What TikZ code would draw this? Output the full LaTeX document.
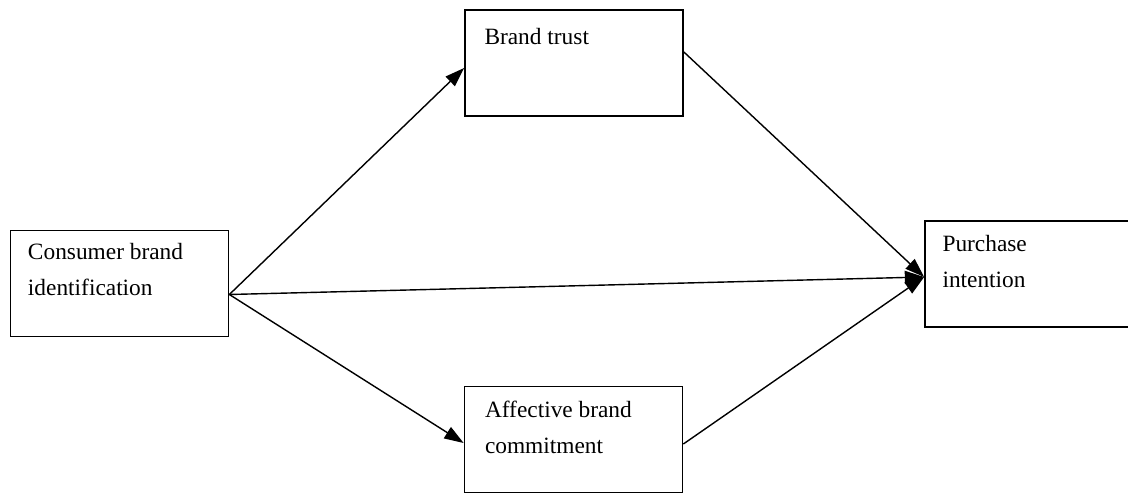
\documentclass[tikz,border=0pt]{standalone}
\usepackage{fontspec}
\setmainfont{Liberation Serif}
\usetikzlibrary{arrows.meta,positioning,calc}
\tikzset{
  boxnd/.style={draw, line width=1pt, minimum width=4.36cm, minimum height=2.12cm, inner sep=0pt},
  labnd/.style={anchor=north west, inner sep=0pt, align=left, font=\fontsize{13.3}{20.5}\selectfont},
  linkln/.style={-{Triangle[length=11pt,width=7.5pt]}, line width=0.8pt},
}

\begin{document}
\begin{tikzpicture}[x=0.02cm, y=-0.02cm]
    \path[use as bounding box, clip] (0,0) rectangle (1128,493);
    % boxes
    \node[boxnd] (cbi) at (119.5,283.5) {};
    \node[boxnd] (trust) at (574,63) {};
    \node[boxnd] (commit) at (573.5,439.5) {};
    \node[boxnd] (intent) at (1034,274) {};
    % texts
    \node[labnd] (cbilab) at ($(cbi.north west)+(18,13)$) {Consumer brand\\identification};
    \node[labnd] (trustlab) at ($(trust.north west)+(20,19)$) {Brand trust};
    \node[labnd] (commitlab) at ($(commit.north west)+(21,15)$) {Affective brand\\commitment};
    \node[labnd] (intentlab) at ($(intent.north west)+(18,15)$) {Purchase\\intention};
    % link ends
    \coordinate (src) at ($(cbi.east)+(0,11)$);
    \coordinate (sink) at ($(intent.west)+(0,3)$);
    \coordinate (trustin) at ($(trust.west)+(0,5)$);
    \coordinate (trustout) at ($(trust.east)+(0,-11)$);
    \coordinate (commitin) at ($(commit.west)+(0,3.5)$);
    \coordinate (commitout) at ($(commit.east)+(0,4.5)$);
    \draw[linkln] (src) -- (trustin);
    \draw[linkln] (src) -- (commitin);
    \draw[linkln] (src) -- (sink);
    \draw[linkln] (trustout) -- (sink);
    \draw[linkln] (commitout) -- (sink);
  \end{tikzpicture}
\end{document}
